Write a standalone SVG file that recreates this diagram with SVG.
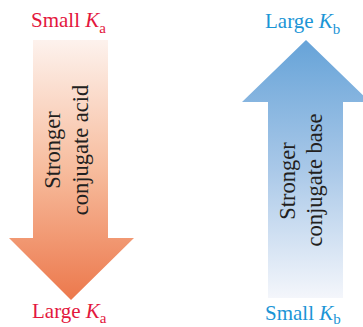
<svg xmlns="http://www.w3.org/2000/svg" width="363" height="327" viewBox="0 0 363 327">
<defs>
<linearGradient id="gAcid" x1="0" y1="40" x2="0" y2="300" gradientUnits="userSpaceOnUse">
<stop offset="0" stop-color="#fdf2ed"/>
<stop offset="0.5" stop-color="#f7bc9d"/>
<stop offset="1" stop-color="#ec784c"/>
</linearGradient>
<linearGradient id="gBase" x1="0" y1="40" x2="0" y2="298" gradientUnits="userSpaceOnUse">
<stop offset="0" stop-color="#66a3d8"/>
<stop offset="0.5" stop-color="#a9c8e8"/>
<stop offset="1" stop-color="#f4f6fb"/>
</linearGradient>
<style>
.lbl{font-family:"Liberation Serif","Times New Roman",serif;font-size:21px}
.red{fill:#e3173d}
.blue{fill:#1b95d6}
.k{font-style:italic}
.sub{font-size:15px}
.rot{font-family:"Liberation Serif","Times New Roman",serif;font-size:22.5px;fill:#231f20;text-anchor:middle}
</style>
</defs>
<g id="connectors">
<g id="acid-arrow">
<polygon points="33,40 108,40 108,238 134,238 71,300 9,238 33,238" fill="url(#gAcid)"/>
</g>
<g id="base-arrow">
<polygon points="306,40 370,102 343,102 343,298 268,298 268,102 242,102" fill="url(#gBase)"/>
</g>
</g>
<g id="acid-text">
<text class="rot" transform="translate(60,150) rotate(-90)">Stronger</text>
<text class="rot" transform="translate(88,150) rotate(-90)">conjugate acid</text>
</g>
<g id="base-text">
<text class="rot" transform="translate(295,181) rotate(-90)">Stronger</text>
<text class="rot" transform="translate(322,180) rotate(-90)">conjugate base</text>
</g>
<g id="small-ka">
<text class="lbl red" x="31" y="27">Small <tspan class="k">K</tspan><tspan class="sub" dy="6">a</tspan></text>
</g>
<g id="large-ka">
<text class="lbl red" x="32" y="318">Large <tspan class="k">K</tspan><tspan class="sub" dy="5">a</tspan></text>
</g>
<g id="large-kb">
<text class="lbl blue" x="265" y="28">Large <tspan class="k">K</tspan><tspan class="sub" dy="6">b</tspan></text>
</g>
<g id="small-kb">
<text class="lbl blue" x="265" y="320">Small <tspan class="k">K</tspan><tspan class="sub" dy="4">b</tspan></text>
</g>
</svg>
